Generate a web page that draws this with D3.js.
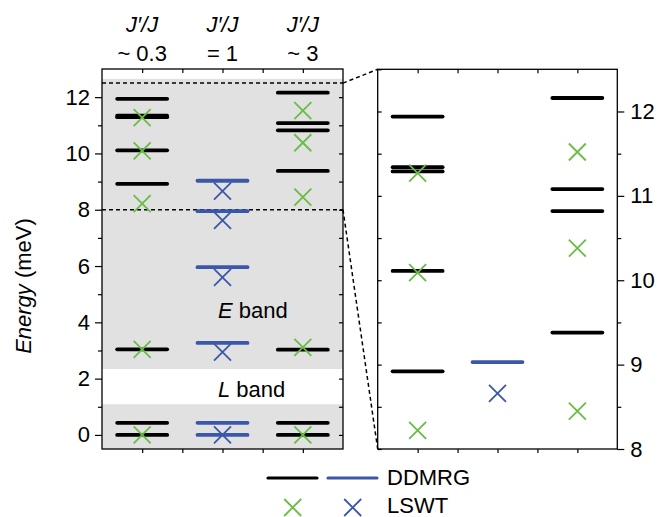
<!DOCTYPE html>
<html>
<head>
<meta charset="utf-8">
<script src="https://cdn.jsdelivr.net/npm/d3@7"></script>
<style>
  html, body { margin: 0; padding: 0; background: #fff; }
  svg { display: block; font-family: "Liberation Sans", Arial, Helvetica, sans-serif; }
</style>
</head>
<body>
<svg id="chart" width="657" height="517"></svg>
<script>
(function() {

  // columns: J'/J ratio labels
  const ratioLabels = ["~ 0.3", "= 1", "~ 3"];
  const columnIds = [1, 2, 3];

  // DDMRG levels (meV), one list per column
  const ddmrgCol1 = [0, 0.43, 3.04, 8.92, 10.11, 11.29, 11.34, 11.94];
  const ddmrgCol2 = [0, 0.43, 3.27, 5.96, 7.95, 9.03];
  const ddmrgCol3 = [0, 0.43, 3.03, 9.38, 10.82, 11.08, 12.16];

  // LSWT levels (meV)
  const lswtCol1 = [0, 3.04, 8.22, 10.09, 11.27];
  const lswtCol2 = [0, 2.94, 5.60, 7.62, 8.66];
  const lswtCol3 = [0, 3.11, 8.45, 10.38, 11.52];

  // shaded bands
  const bandNames = ["E", "L"];
  const bandLow = [2.34, -0.5];
  const bandHigh = [12.65, 1.09];
  const bandLabelY = [4.15, 1.35];

  // zoomed energy window
  const zoomRange = [8, 12.5];

  const ddmrg = [ddmrgCol1, ddmrgCol2, ddmrgCol3];
  const lswt = [lswtCol1, lswtCol2, lswtCol3];

  const INK = "#000";
  const BLUE = "#3b58a8";
  const GREEN = "#69bd45";
  const GRAY = "#e1e1e1";
  const FS = 22;
  const lineColor = [INK, BLUE, INK];
  const crossColor = [GREEN, BLUE, GREEN];

  const svg = d3.select("#chart");

  const left = { x0: 102, x1: 343, y0: 69, y1: 449 };
  const right = { x0: 377.7, x1: 617.3, y0: 69.3, y1: 449 };

  const xL = d3.scaleLinear().domain([0.5, 3.5]).range([left.x0, left.x1]);
  const yL = d3.scaleLinear().domain([-0.5, 13]).range([left.y1, left.y0]);
  const xR = d3.scaleLinear().domain([0.5, 3.5]).range([right.x0, right.x1]);
  const yR = d3.scaleLinear().domain(zoomRange).range([right.y1, right.y0]);

  const halfLen = 25;
  const arm = 8.5;

  function crossPath(cx, cy, a) {
    return `M${cx - a},${cy - a}L${cx + a},${cy + a}M${cx - a},${cy + a}L${cx + a},${cy - a}`;
  }

  // ---------- left panel ----------
  const gL = svg.append("g");

  bandNames.forEach((b, i) => {
    gL.append("rect")
      .attr("x", left.x0).attr("width", left.x1 - left.x0)
      .attr("y", yL(Math.min(bandHigh[i], 13)))
      .attr("height", yL(Math.max(bandLow[i], -0.5)) - yL(Math.min(bandHigh[i], 13)))
      .attr("fill", GRAY);
  });

  bandNames.forEach((b, i) => {
    const t = gL.append("text")
      .attr("x", 218).attr("y", yL(bandLabelY[i]))
      .attr("font-size", FS)
      .attr("fill", INK);
    t.append("tspan").attr("font-style", "italic").text(b);
    t.append("tspan").text(" band");
  });

  zoomRange.forEach(v => {
    gL.append("line")
      .attr("x1", left.x0).attr("x2", left.x1)
      .attr("y1", yL(v)).attr("y2", yL(v))
      .attr("stroke", INK).attr("stroke-width", 1.5)
      .attr("stroke-dasharray", "4,3");
  });

  function drawLevels(g, x, y, filter) {
    ddmrg.forEach((levels, c) => {
      levels.filter(filter).forEach(e => {
        g.append("line")
          .attr("x1", x(columnIds[c]) - halfLen).attr("x2", x(columnIds[c]) + halfLen)
          .attr("y1", y(e)).attr("y2", y(e))
          .attr("stroke", lineColor[c]).attr("stroke-width", 3.8)
          .attr("stroke-linecap", "round");
      });
    });
    lswt.forEach((levels, c) => {
      levels.filter(filter).forEach(e => {
        g.append("path")
          .attr("d", crossPath(x(columnIds[c]), y(e), arm))
          .attr("fill", "none")
          .attr("stroke", crossColor[c]).attr("stroke-width", 1.8);
      });
    });
  }

  drawLevels(gL, xL, yL, () => true);

  // frame + ticks
  function frame(g, p) {
    g.append("rect")
      .attr("x", p.x0).attr("y", p.y0)
      .attr("width", p.x1 - p.x0).attr("height", p.y1 - p.y0)
      .attr("fill", "none").attr("stroke", INK).attr("stroke-width", 1.3);
  }

  function tidy(g) {
    g.select(".domain").remove();
    g.selectAll(".tick line").attr("stroke", INK).attr("stroke-width", 1.2);
    g.selectAll(".tick text").attr("font-size", FS).attr("fill", INK)
      .attr("font-family", "Liberation Sans, Arial, Helvetica, sans-serif");
  }

  const colTicks = [1, 1.5, 2, 2.5, 3];
  const intFmt = d3.format("d");

  // left panel axes
  gL.append("g").attr("transform", `translate(${left.x0},0)`)
    .call(d3.axisLeft(yL).tickValues(d3.range(0, 13, 2)).tickSize(7).tickPadding(5).tickFormat(intFmt))
    .call(tidy);
  gL.append("g").attr("transform", `translate(${left.x0},0)`)
    .call(d3.axisLeft(yL).tickValues(d3.range(1, 13, 2)).tickSize(4).tickFormat(""))
    .call(tidy);
  gL.append("g").attr("transform", `translate(${left.x1},0)`)
    .call(d3.axisLeft(yL).tickValues(d3.range(0, 13, 1)).tickSize(4).tickFormat(""))
    .call(tidy);
  gL.append("g").attr("transform", `translate(0,${left.y0})`)
    .call(d3.axisBottom(xL).tickValues(colTicks).tickSize(4).tickFormat(""))
    .call(tidy);
  gL.append("g").attr("transform", `translate(0,${left.y1})`)
    .call(d3.axisBottom(xL).tickValues(colTicks).tickSize(4).tickFormat(""))
    .call(tidy);
  frame(gL, left);

  // ---------- right panel ----------
  const gR = svg.append("g");
  drawLevels(gR, xR, yR, e => e >= zoomRange[0] && e <= zoomRange[1]);

  gR.append("g").attr("transform", `translate(${right.x1},0)`)
    .call(d3.axisRight(yR).tickValues(d3.range(8, 13, 1)).tickSize(7).tickPadding(6).tickFormat(intFmt))
    .call(tidy);
  gR.append("g").attr("transform", `translate(${right.x1},0)`)
    .call(d3.axisRight(yR).tickValues(d3.range(8.5, 12.5, 1)).tickSize(4).tickFormat(""))
    .call(tidy);
  gR.append("g").attr("transform", `translate(${right.x0},0)`)
    .call(d3.axisRight(yR).tickValues(d3.range(8, 12.6, 0.5)).tickSize(4).tickFormat(""))
    .call(tidy);
  gR.append("g").attr("transform", `translate(0,${right.y0})`)
    .call(d3.axisBottom(xR).tickValues(colTicks).tickSize(4).tickFormat(""))
    .call(tidy);
  gR.append("g").attr("transform", `translate(0,${right.y1})`)
    .call(d3.axisBottom(xR).tickValues(colTicks).tickSize(4).tickFormat(""))
    .call(tidy);
  frame(gR, right);

  // zoom connectors
  svg.append("line")
    .attr("x1", left.x1).attr("y1", yL(zoomRange[1]))
    .attr("x2", right.x0).attr("y2", right.y0)
    .attr("stroke", INK).attr("stroke-width", 1.5).attr("stroke-dasharray", "4,3");
  svg.append("line")
    .attr("x1", left.x1).attr("y1", yL(zoomRange[0]))
    .attr("x2", right.x0).attr("y2", right.y1)
    .attr("stroke", INK).attr("stroke-width", 1.5).attr("stroke-dasharray", "4,3");

  // ---------- column headers ----------
  ratioLabels.forEach((lab, c) => {
    const cx = xL(columnIds[c]);
    svg.append("text")
      .attr("x", cx).attr("y", 32)
      .attr("text-anchor", "middle").attr("font-size", FS).attr("fill", INK)
      .attr("font-style", "italic")
      .text("J\u2032/J");
    svg.append("text")
      .attr("x", cx).attr("y", 61)
      .attr("text-anchor", "middle").attr("font-size", FS).attr("fill", INK)
      .text(lab);
  });

  // ---------- y label ----------
  const yl = svg.append("text")
    .attr("transform", `translate(31,${(left.y0 + left.y1) / 2 + 27}) rotate(-90)`)
    .attr("text-anchor", "middle").attr("font-size", FS).attr("fill", INK);
  yl.append("tspan").attr("font-style", "italic").text("Energy");
  yl.append("tspan").text(" (meV)");

  // ---------- legend ----------
  const lg = svg.append("g");
  lg.append("line").attr("x1", 268).attr("x2", 317).attr("y1", 478).attr("y2", 478)
    .attr("stroke", INK).attr("stroke-width", 3.2).attr("stroke-linecap", "round");
  lg.append("line").attr("x1", 328).attr("x2", 377).attr("y1", 478).attr("y2", 478)
    .attr("stroke", BLUE).attr("stroke-width", 3.2).attr("stroke-linecap", "round");
  lg.append("text").attr("x", 387).attr("y", 485).attr("font-size", FS).attr("fill", INK).text("DDMRG");
  lg.append("path").attr("d", crossPath(292.7, 507.5, arm)).attr("fill", "none")
    .attr("stroke", GREEN).attr("stroke-width", 1.8);
  lg.append("path").attr("d", crossPath(352.7, 507.5, arm)).attr("fill", "none")
    .attr("stroke", BLUE).attr("stroke-width", 1.8);
  lg.append("text").attr("x", 387).attr("y", 513).attr("font-size", FS).attr("fill", INK).text("LSWT");

})();
</script>
</body>
</html>
